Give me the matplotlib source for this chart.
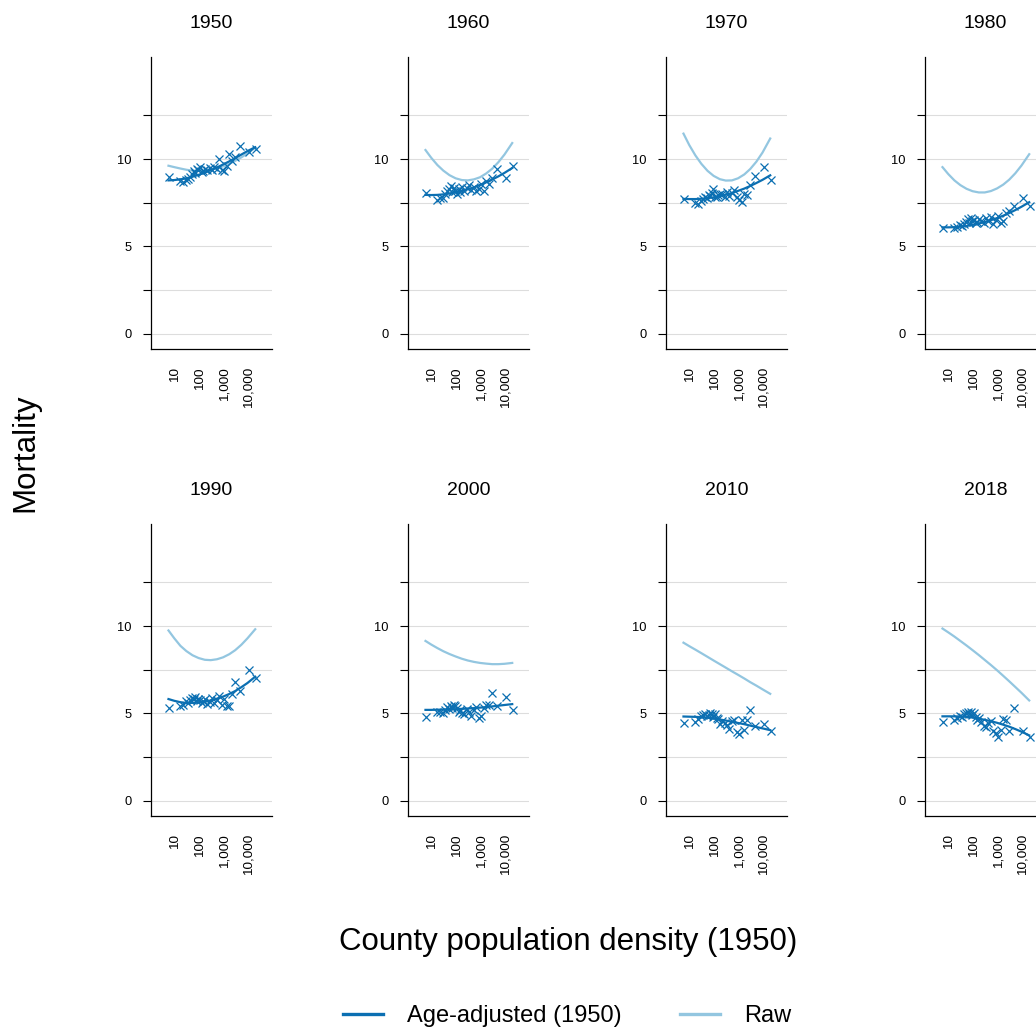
import numpy as np
import matplotlib
matplotlib.use("Agg")
import matplotlib.pyplot as plt
from matplotlib.lines import Line2D

plt.rcParams['font.family'] = ['Liberation Sans', 'DejaVu Sans']

years = ["1950", "1960", "1970", "1980", "1990", "2000", "2010", "2018"]

# county density bins (people per sq. mile, 1950)
density = [5.4, 15.1, 20, 26.3, 33.1, 39.8, 46.8, 55, 63, 74, 85, 100, 117, 141, 166,
           200, 251, 316, 398, 501, 631, 794, 1000, 1259, 1585, 2138, 2818, 4266, 10000, 19500]

# age-adjusted mortality by bin
adj_points = {
    "1950": [9.0, 8.75, 8.7, 8.8, 8.85, 9.0, 9.15, 9.3, 9.2, 9.45, 9.35, 9.55, 9.25, 9.3, 9.45,
             9.35, 9.5, 9.4, 9.55, 9.45, 9.98, 9.4, 9.3, 9.6, 10.3, 9.9, 10.1, 10.76, 10.42, 10.6],
    "1960": [8.07, 7.66, 7.8, 7.75, 8.0, 8.15, 8.3, 8.45, 8.1, 8.35, 8.2, 8.0, 8.3, 8.13, 8.4,
             8.2, 8.35, 8.5, 8.25, 8.4, 8.15, 8.3, 8.6, 8.2, 8.75, 8.6, 8.9, 9.45, 8.9, 9.6],
    "1970": [7.7, 7.47, 7.45, 7.6, 7.7, 7.85, 7.8, 7.95, 7.9, 8.05, 8.27, 7.85, 7.85, 7.95, 8.0,
             8.0, 7.85, 8.1, 7.9, 8.05, 8.23, 7.85, 7.66, 7.55, 8.0, 7.95, 8.5, 9.03, 9.56, 8.83],
    "1980": [6.05, 6.05, 6.1, 6.2, 6.15, 6.3, 6.4, 6.55, 6.35, 6.6, 6.45, 6.5, 6.35, 6.4, 6.55,
             6.45, 6.35, 6.6, 6.45, 6.7, 6.3, 6.5, 6.75, 6.35, 6.45, 6.9, 7.05, 7.3, 7.75, 7.3],
    "1990": [5.3, 5.45, 5.5, 5.7, 5.6, 5.75, 5.9, 5.8, 5.95, 5.7, 5.85, 5.75, 5.6, 5.7, 5.8,
             5.55, 5.65, 5.9, 5.6, 5.75, 6.0, 5.5, 5.8, 5.45, 5.4, 6.1, 6.8, 6.3, 7.5, 7.05],
    "2000": [4.8, 5.05, 5.1, 5.0, 5.2, 5.35, 5.25, 5.45, 5.3, 5.5, 5.4, 5.3, 5.1, 5.2, 5.0,
             4.95, 5.25, 5.1, 4.85, 5.2, 5.35, 4.75, 4.85, 5.3, 5.5, 5.5, 6.15, 5.4, 5.95, 5.2],
    "2010": [4.44, 4.5, 4.7, 4.83, 4.9, 4.94, 4.85, 4.89, 5.02, 4.94, 4.79, 4.98, 4.75, 4.69, 4.4,
             4.56, 4.45, 4.31, 4.12, 4.56, 4.6, 3.93, 3.79, 4.6, 4.07, 4.6, 5.21, 4.25, 4.37, 3.98],
    "2018": [4.5, 4.6, 4.75, 4.85, 4.8, 4.95, 5.0, 5.05, 4.95, 5.1, 4.9, 5.0, 4.8, 4.6, 4.75,
             4.5, 4.3, 4.2, 4.45, 4.55, 4.0, 3.9, 3.65, 4.05, 4.65, 4.6, 4.0, 5.3, 4.0, 3.65],
}

# fitted curves, evaluated along the density range
fit_density = [5.2, 9, 16, 28, 50, 89, 160, 280, 500, 890, 1600, 2800, 5000, 8900, 18500]
adj_fit = {
    "1950": [8.78, 8.8, 8.84, 8.9, 8.99, 9.1, 9.23, 9.37, 9.52, 9.69, 9.87, 10.06, 10.26, 10.46, 10.68],
    "1960": [7.95, 7.94, 7.95, 7.98, 8.03, 8.09, 8.17, 8.27, 8.38, 8.52, 8.67, 8.83, 9.01, 9.21, 9.49],
    "1970": [7.72, 7.71, 7.71, 7.73, 7.76, 7.81, 7.88, 7.96, 8.06, 8.18, 8.31, 8.46, 8.63, 8.81, 9.07],
    "1980": [6.09, 6.09, 6.1, 6.13, 6.17, 6.23, 6.31, 6.39, 6.5, 6.62, 6.76, 6.91, 7.08, 7.27, 7.53],
    "1990": [5.82, 5.72, 5.64, 5.6, 5.6, 5.62, 5.67, 5.74, 5.84, 5.96, 6.11, 6.28, 6.5, 6.74, 7.1],
    "2000": [5.2, 5.2, 5.21, 5.22, 5.23, 5.24, 5.26, 5.28, 5.3, 5.33, 5.36, 5.4, 5.44, 5.48, 5.53],
    "2010": [4.82, 4.81, 4.8, 4.78, 4.75, 4.7, 4.65, 4.59, 4.52, 4.45, 4.38, 4.3, 4.22, 4.14, 4.04],
    "2018": [4.83, 4.83, 4.83, 4.82, 4.8, 4.76, 4.7, 4.63, 4.55, 4.46, 4.35, 4.24, 4.1, 3.95, 3.74],
}
raw_fit = {
    "1950": [9.62, 9.54, 9.46, 9.39, 9.34, 9.32, 9.34, 9.39, 9.47, 9.58, 9.73, 9.9, 10.1, 10.33, 10.65],
    "1960": [10.52, 10.07, 9.66, 9.34, 9.08, 8.9, 8.8, 8.78, 8.84, 8.96, 9.18, 9.45, 9.82, 10.26, 10.92],
    "1970": [11.46, 10.8, 10.21, 9.73, 9.33, 9.04, 8.85, 8.77, 8.78, 8.9, 9.12, 9.43, 9.85, 10.37, 11.18],
    "1980": [9.54, 9.14, 8.78, 8.51, 8.3, 8.16, 8.09, 8.09, 8.17, 8.32, 8.54, 8.82, 9.19, 9.63, 10.28],
    "1990": [9.75, 9.3, 8.87, 8.57, 8.33, 8.17, 8.07, 8.05, 8.1, 8.21, 8.39, 8.62, 8.93, 9.3, 9.82],
    "2000": [9.15, 8.94, 8.74, 8.56, 8.4, 8.26, 8.13, 8.03, 7.95, 7.89, 7.85, 7.82, 7.82, 7.84, 7.89],
    "2010": [9.05, 8.85, 8.65, 8.45, 8.24, 8.03, 7.82, 7.62, 7.41, 7.21, 7.0, 6.79, 6.59, 6.38, 6.12],
    "2018": [9.86, 9.64, 9.4, 9.15, 8.89, 8.62, 8.34, 8.06, 7.77, 7.47, 7.15, 6.84, 6.51, 6.18, 5.74],
}

xticks = [10, 100, 1000, 10000]
xticklabels = ["10", "100", "1,000", "10,000"]

dark = "#0b6fb2"
light = "#93c6e0"

W, H = 1036, 1030
fig = plt.figure(figsize=(W / 100, H / 100), dpi=100)

col_left = [151, 408, 666, 925]
row_top = [57, 524]
ax_w, ax_h = 121, 292

for i, yr in enumerate(years):
    r, c = divmod(i, 4)
    ax = fig.add_axes([col_left[c] / W, 1 - (row_top[r] + ax_h) / H, ax_w / W, ax_h / H])
    ax.plot(fit_density, raw_fit[yr], color=light, lw=1.6, zorder=2)
    ax.plot(fit_density, adj_fit[yr], color=dark, lw=1.6, zorder=3)
    ax.plot(density, adj_points[yr], ls="none", marker="x", ms=5.2, mew=0.9, color=dark, zorder=4)

    ax.set_xscale("log")
    ax.set_xlim(1, 9e4)
    ax.set_ylim(-0.88, 15.85)
    ax.set_xticks(xticks)
    ax.set_xticklabels(xticklabels, rotation=90)
    ax.minorticks_off()
    ax.set_yticks([0, 2.5, 5, 7.5, 10, 12.5])
    ax.set_yticklabels(["0", "", "5", "", "10", ""])
    ax.tick_params(axis="x", length=0, pad=13, labelsize=9.7)
    ax.tick_params(axis="y", length=6, width=0.8, pad=8, labelsize=9.3)
    ax.grid(axis="y", color="#dddddd", lw=0.8)
    ax.set_axisbelow(True)
    for s in ["top", "right"]:
        ax.spines[s].set_visible(False)
    for s in ["left", "bottom"]:
        ax.spines[s].set_linewidth(0.9)
    ax.set_title(yr, fontsize=14, pad=21)

fig.text(25 / W, 1 - 453 / H, "Mortality", rotation=90, ha="center", va="center", fontsize=22.5)
fig.text(568 / W, 1 - 942 / H, "County population density (1950)", ha="center", va="center",
         fontsize=22.5)

handles = [Line2D([], [], color=dark, lw=2.4), Line2D([], [], color=light, lw=2.4)]
fig.legend(handles, ["Age-adjusted (1950)", "Raw"], loc="center", bbox_to_anchor=(567 / W, 14 / H),
           ncol=2, frameon=False, fontsize=17, handlelength=1.7, handletextpad=1.0,
           columnspacing=2.5)

fig.savefig("out.png", dpi=100)
